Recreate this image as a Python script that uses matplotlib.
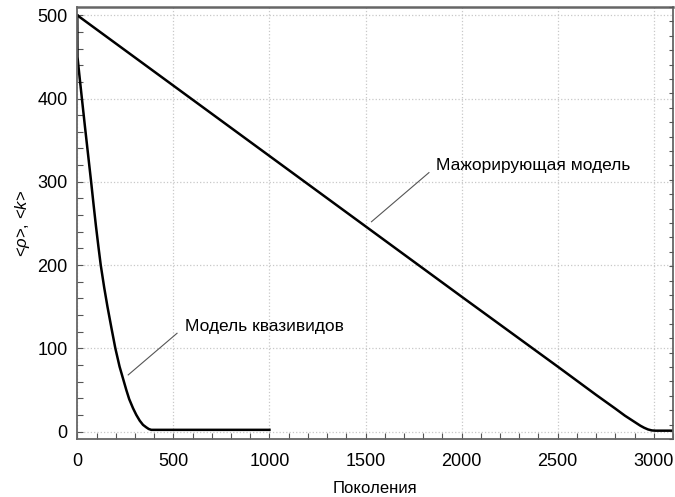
import matplotlib
matplotlib.use('Agg')
import matplotlib.pyplot as plt
from matplotlib.ticker import MultipleLocator

plt.rcParams['font.family'] = ['Liberation Sans', 'DejaVu Sans']
plt.rcParams['mathtext.fontset'] = 'custom'
plt.rcParams['mathtext.rm'] = 'Liberation Sans'
plt.rcParams['mathtext.it'] = 'Liberation Sans:italic'

# ── Data ──────────────────────────────────────────────────────────────────
# majorizing model
major_x = [0, 1000, 2000, 2500, 2700, 2800, 2850, 2900, 2930, 2950, 2970,
           2990, 3010, 3100]
major_y = [500, 331, 162, 78, 44, 27.5, 19, 11.5, 7, 4.5, 2.5,
           1.3, 1, 1]

# quasispecies model
quasi_x = [0, 1, 10, 24, 40, 56, 72, 85, 97, 110, 122, 140, 157, 178, 198,
           220, 240, 255, 270, 290, 307, 325, 342, 359, 372, 385, 1000]
quasi_y = [500, 450, 430, 400, 366, 333, 300, 272, 247, 222, 200, 173, 150,
           124, 100, 78, 62, 50, 39, 28, 20, 13, 8, 5, 3, 2, 2]

xlabel = 'Поколения'
ylabel = r'<$\it{\rho}$>, <$\it{k}$>'
label_major = 'Мажорирующая модель'
label_quasi = 'Модель квазивидов'

# pointer lines: (line start, line end, text anchor)
ptr_major = [(1531, 252), (1830, 311), (1868, 319)]
ptr_quasi = [(265, 68), (519, 118), (559, 126)]

# ── Figure ─────────────────────────────────────────────────────────────────
fig = plt.figure(figsize=(6.75, 4.97), dpi=100)
ax = fig.add_axes([0.1145, 0.1167, 0.8825, 0.8693])

ax.plot(major_x, major_y, color='black', lw=1.8, solid_joinstyle='round')
ax.plot(quasi_x, quasi_y, color='black', lw=1.8, solid_joinstyle='round')

ax.set_xlim(0, 3100)
ax.set_ylim(-9, 510)

ax.xaxis.set_major_locator(MultipleLocator(500))
ax.xaxis.set_minor_locator(MultipleLocator(100))
ax.yaxis.set_major_locator(MultipleLocator(100))
ax.yaxis.set_minor_locator(MultipleLocator(20))

ax.grid(True, which='major', color='#c8c8c8', ls=':', lw=0.9)
ax.tick_params(which='both', direction='in', top=False, right=False,
               colors='#555555', labelcolor='black', labelsize=13)
ax.tick_params(which='both', length=4, width=0.8)
ax.tick_params(axis='x', which='major', pad=10)
ax.tick_params(axis='y', which='major', pad=7)
for s in ax.spines.values():
    s.set_color('#666666')
    s.set_linewidth(1.3)
ax.spines['top'].set_linewidth(1.8)

# unlabelled tick scale on the right spine
ax2 = ax.twinx()
ax2.set_ylim(0, 30)
ax2.yaxis.set_major_locator(MultipleLocator(1))
ax2.tick_params(axis='y', direction='in', length=3, width=0.8,
                colors='#555555', labelright=False)
for s in ax2.spines.values():
    s.set_visible(False)

ax.set_xlabel(xlabel, fontsize=12, labelpad=8)
ax.set_ylabel(ylabel, fontsize=12, labelpad=4)

# pointer labels
for (p0, p1, pt), txt in [(ptr_major, label_major), (ptr_quasi, label_quasi)]:
    ax.plot([p0[0], p1[0]], [p0[1], p1[1]], color='#555555', lw=0.8)
    ax.text(pt[0], pt[1], txt, fontsize=12.5, va='center', ha='left')

plt.savefig('out.png', dpi=100)
